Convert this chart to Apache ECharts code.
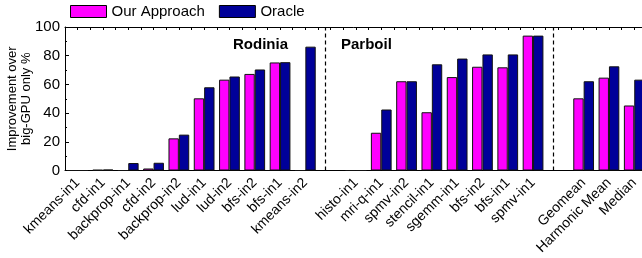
<!DOCTYPE html>
<html>
<head>
<meta charset="utf-8">
<script src="https://cdn.jsdelivr.net/npm/echarts@6/dist/echarts.min.js"></script>
<style>
  html, body { margin: 0; padding: 0; background: #fff; }
  #chart { width: 642px; height: 258px; }
</style>
</head>
<body>
<div id="chart"></div>
<script>
// benchmarks, '' = empty slot where the dashed separator sits
var categories = [
    'kmeans-in1', 'cfd-in1', 'backprop-in1', 'cfd-in2', 'backprop-in2',
    'lud-in1', 'lud-in2', 'bfs-in2', 'bfs-in1', 'kmeans-in2',
    '',
    'histo-in1', 'mri-q-in1', 'spmv-in2', 'stencil-in1', 'sgemm-in1',
    'bfs-in2', 'bfs-in1', 'spmv-in1',
    '',
    'Geomean', 'Harmonic Mean', 'Median'
];
var ourApproach = [
    0, 0.4, 0, 1.4, 22.4,
    50.3, 63.3, 67.3, 75.3, 0,
    null,
    0, 26.3, 62.2, 40.6, 65.1,
    72.3, 71.9, 94,
    null,
    50.3, 64.7, 45.3
];
var oracle = [
    0, 0.6, 5.2, 5.4, 25,
    58, 65.5, 70.4, 75.5, 86.3,
    null,
    0, 42.5, 62.2, 74, 78,
    80.9, 80.9, 94,
    null,
    62.2, 72.6, 63.3
];
var separators = [10, 19];
var groupNames = ['Rodinia', 'Parboil'];

var FONT = '"Liberation Sans", Arial, sans-serif';
var bandW = 25.3;

var myChart = echarts.init(document.getElementById('chart'));

var barStyle = function (c) {
    return { color: c, borderColor: '#111', borderWidth: 1 };
};

var option = {
    animation: false,
    textStyle: { fontFamily: FONT },
    legend: {
        left: 70,
        top: 4,
        padding: 0,
        itemWidth: 36,
        itemHeight: 12,
        itemGap: 14,
        textStyle: { fontSize: 15, color: '#000', fontFamily: FONT },
        data: [
            { name: 'Our Approach', icon: 'rect', itemStyle: { borderColor: '#000', borderWidth: 1 } },
            { name: 'Oracle', icon: 'rect', itemStyle: { borderColor: '#000', borderWidth: 1 } }
        ]
    },
    grid: {
        left: 65,
        top: 27,
        bottom: 87.5,
        right: 642 - 65 - bandW * categories.length,
        outerBoundsMode: 'none'
    },
    xAxis: [
        {
            type: 'category',
            data: categories,
            axisLine: { lineStyle: { color: '#000', width: 1 } },
            axisTick: { inside: true, length: 3, interval: 0, lineStyle: { color: '#000' } },
            axisLabel: {
                interval: 0,
                rotate: 45,
                fontSize: 14,
                color: '#000',
                margin: 10,
                fontFamily: FONT
            }
        },
        {
            type: 'value',
            position: 'top',
            min: 0,
            max: categories.length,
            interval: 1,
            axisLine: { show: true, lineStyle: { color: '#000' } },
            axisTick: { show: true, inside: true, length: 3, lineStyle: { color: '#000' } },
            minorTick: { show: true, splitNumber: 2, length: 3, lineStyle: { color: '#000' } },
            axisLabel: { show: false },
            splitLine: { show: false }
        }
    ],
    yAxis: {
        type: 'value',
        min: 0,
        max: 100,
        interval: 20,
        name: 'Improvement over\nbig-GPU only %',
        nameLocation: 'middle',
        nameGap: 32,
        nameMoveOverlap: false,
        nameTextStyle: { fontSize: 13, color: '#000', lineHeight: 14, fontFamily: FONT },
        axisLine: { show: true, lineStyle: { color: '#000' } },
        axisTick: { show: true, inside: true, length: 4, lineStyle: { color: '#000' } },
        minorTick: { show: true, splitNumber: 2, length: 2, lineStyle: { color: '#000' } },
        axisLabel: { fontSize: 15, color: '#000', margin: 5, fontFamily: FONT },
        splitLine: { show: false }
    },
    series: [
        {
            name: 'Our Approach',
            type: 'bar',
            data: ourApproach,
            barGap: '0%',
            barCategoryGap: '18%',
            itemStyle: barStyle('#ff00ff'),
            markLine: {
                silent: true,
                symbol: 'none',
                label: { show: false },
                lineStyle: { color: '#000', type: [4, 3], width: 1.2 },
                data: separators.map(function (i) { return { xAxis: i }; })
            }
        },
        {
            name: 'Oracle',
            type: 'bar',
            data: oracle,
            itemStyle: barStyle('#000099')
        }
    ],
    graphic: [
        {
            type: 'text', left: 233, top: 37,
            style: { text: groupNames[0], font: 'bold 15px ' + FONT, fill: '#000' }
        },
        {
            type: 'text', left: 341, top: 37,
            style: { text: groupNames[1], font: 'bold 15px ' + FONT, fill: '#000' }
        }
    ]
};

myChart.setOption(option);
</script>
</body>
</html>
